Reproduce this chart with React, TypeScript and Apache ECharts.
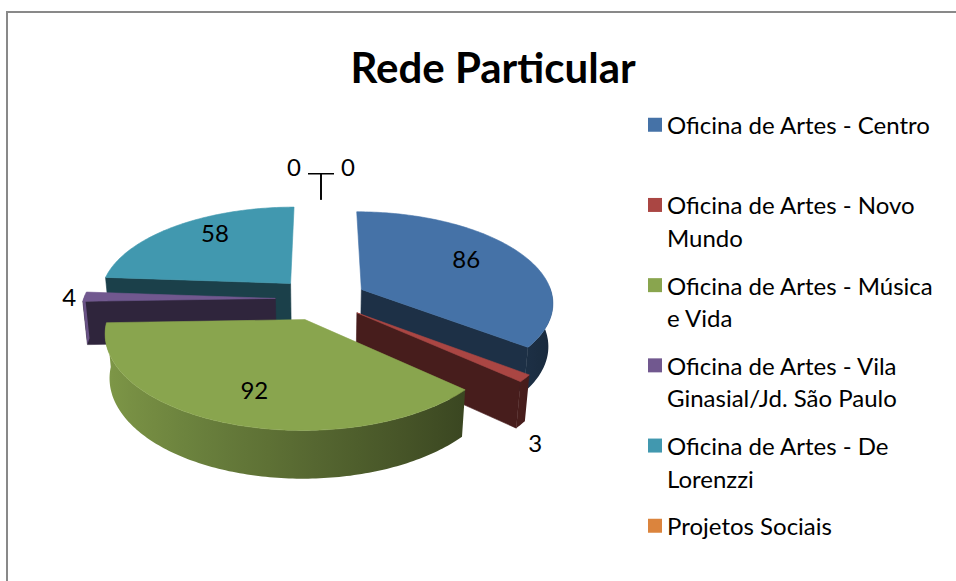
import React, { useEffect, useRef } from 'react';
import * as echarts from 'echarts';

// ---------------- data ----------------
const TITLE = 'Rede Particular';
const CATEGORIES: string[] = [
  'Oficina de Artes - Centro',
  'Oficina de Artes - Novo Mundo',
  'Oficina de Artes - Música e Vida',
  'Oficina de Artes - Vila Ginasial/Jd. São Paulo',
  'Oficina de Artes - De Lorenzzi',
  'Projetos Sociais',
  'Outros',
];
const VALUES: number[] = [86, 3, 92, 4, 58, 0, 0];
const LEGEND_ITEMS: string[] = CATEGORIES.slice(0, 6);

// ---------------- styles ----------------
const COLORS = ['#4572A7', '#AA4643', '#89A54E', '#71588F', '#4198AF', '#DB843D', '#93A9CF'];
const FONT = 'Lato';

// 3D projection settings
const CX = 321;
const CY = 342;
const FOCAL = 1260;
const DIST = 6.7;
const TILT = Math.PI / 6;
const THICK = 0.26;
const EXPLODE = 0.238;
const DEG = Math.PI / 180;

const TOTAL = VALUES.reduce((s, v) => s + v, 0);

function project(X: number, Z: number, h: number): number[] {
  const s = Math.sin(TILT);
  const c = Math.cos(TILT);
  const v = h * c - Z * s;
  const w = DIST - h * s - Z * c;
  return [CX + (FOCAL * X) / w, CY - (FOCAL * v) / w];
}

function shade(hex: string, k: number): string {
  const n = parseInt(hex.slice(1), 16);
  const r = Math.min(255, Math.round(((n >> 16) & 255) * k));
  const g = Math.min(255, Math.round(((n >> 8) & 255) * k));
  const b = Math.min(255, Math.round((n & 255) * k));
  return `rgb(${r},${g},${b})`;
}

function wallFactor(deg: number): number {
  return 0.35 + (0.58 * (1 - Math.sin(deg * DEG))) / 2;
}

function wrapName(name: string, max = 25): string[] {
  const words = name.split(' ');
  const lines: string[] = [];
  let cur = '';
  for (const w of words) {
    const t = cur ? cur + ' ' + w : w;
    if (t.length > max && cur) {
      lines.push(cur);
      cur = w;
    } else cur = t;
  }
  if (cur) lines.push(cur);
  return lines;
}

function valueBefore(idx: number): number {
  let s = 0;
  for (let j = 0; j < idx; j++) s += VALUES[j];
  return s;
}

function zeroOrder(idx: number): number {
  let c = 0;
  for (let j = 0; j < idx; j++) if (VALUES[j] === 0) c++;
  return c;
}

function makeRenderItem(idx: number) {
  return (_params: any, api: any) => {
    const value = api.value(0) as number;
    const before = valueBefore(idx);
    const a = (before / TOTAL) * 360;
    const b = ((before + value) / TOTAL) * 360;
    const mid = (a + b) / 2;
    const ox = EXPLODE * Math.sin(mid * DEG);
    const oz = -EXPLODE * Math.cos(mid * DEG);
    const rim = (deg: number, h: number, r = 1, rz = r) =>
      project(ox + r * Math.sin(deg * DEG), oz - rz * Math.cos(deg * DEG), h);
    const arc = (from: number, to: number, h: number) => {
      const n = Math.max(1, Math.ceil(Math.abs(to - from)));
      const pts: number[][] = [];
      for (let i = 0; i <= n; i++) pts.push(rim(from + ((to - from) * i) / n, h));
      return pts;
    };
    const base = COLORS[idx];
    const children: any[] = [];
    const poly = (points: number[][], fill: any, z2: number) => ({
      type: 'polygon',
      shape: { points },
      style: { fill, stroke: typeof fill === 'string' ? fill : null, lineWidth: 0.6 },
      z2,
    });
    const label = (x: number, y: number, text: string, align: string, vAlign: string) => ({
      type: 'text',
      x,
      y,
      z2: 10,
      style: { text, fill: '#000', fontFamily: FONT, fontSize: 24, align, verticalAlign: vAlign },
    });

    if (value > 0) {
      const apexT = project(ox, oz, THICK);
      const apexB = project(ox, oz, 0);
      const sideColor = shade(base, 0.42);
      if (Math.sin(a * DEG) < -1e-6) {
        children.push(poly([apexT, rim(a, THICK), rim(a, 0), apexB], sideColor, 1));
      }
      if (Math.sin(b * DEG) > 1e-6) {
        children.push(poly([apexT, rim(b, THICK), rim(b, 0), apexB], sideColor, 1));
      }
      const lo = Math.max(a, 88);
      const hi = Math.min(b, 272);
      if (hi > lo) {
        const topPts = arc(lo, hi, THICK);
        const botPts = arc(lo, hi, 0).reverse();
        const pts = topPts.concat(botPts);
        const xs = pts.map((p) => p[0]);
        const minX = Math.min(...xs);
        const maxX = Math.max(...xs);
        const stops: any[] = [];
        const n = 12;
        for (let i = 0; i <= n; i++) {
          const d = lo + ((hi - lo) * i) / n;
          const x = rim(d, THICK)[0];
          const off = maxX > minX ? Math.min(1, Math.max(0, (x - minX) / (maxX - minX))) : 0;
          stops.push({ offset: off, color: shade(base, wallFactor(d)) });
        }
        stops.sort((p, q) => p.offset - q.offset);
        const grad = new echarts.graphic.LinearGradient(0, 0, 1, 0, stops);
        children.push(poly(pts, grad, 2));
      }
      children.push(poly([apexT, ...arc(a, b, THICK)], base, 3));

      const frac = value / TOTAL;
      if (frac > 0.1) {
        const p = rim(mid, THICK, 0.66, 0.8 + 0.1 * Math.cos(mid * DEG));
        children.push(label(p[0], p[1], String(value), 'center', 'middle'));
      } else {
        const front = Math.cos(mid * DEG) < 0;
        const p = rim(mid, front ? 0 : THICK, 1.08);
        children.push(label(p[0], p[1], String(value), 'center', front ? 'top' : 'middle'));
      }
    } else {
      const p = rim(a, THICK, 1);
      const dir = zeroOrder(idx) % 2 === 0 ? -1 : 1;
      const topY = p[1] - 29;
      children.push({
        type: 'polyline',
        shape: { points: [[p[0], p[1] - 3], [p[0], topY], [p[0] + dir * 13, topY]] },
        style: { stroke: '#000', lineWidth: 1.6, fill: null },
        z2: 10,
      });
      children.push(label(p[0] + dir * 20, topY - 7, String(value), dir < 0 ? 'right' : 'left', 'middle'));
    }
    return { type: 'group', children };
  };
}

function depthRank(): number[] {
  const depth = VALUES.map((v, i) => {
    const before = valueBefore(i);
    const mid = ((before + v / 2) / TOTAL) * 360;
    return v === 0 ? 10 : -Math.cos(mid * DEG);
  });
  const order = depth.map((d, i) => i).sort((p, q) => depth[p] - depth[q]);
  const rank: number[] = [];
  order.forEach((i, r) => (rank[i] = r));
  return rank;
}

export default function App() {
  const ref = useRef<HTMLDivElement>(null);
  useEffect(() => {
    if (!ref.current) return;
    const chart = echarts.init(ref.current, null, { renderer: 'svg' });
    const rank = depthRank();
    const series = CATEGORIES.map((name, i) => ({
      type: 'custom',
      name,
      coordinateSystem: 'none',
      z: 2 + rank[i],
      silent: true,
      itemStyle: { color: COLORS[i] },
      renderItem: makeRenderItem(i),
      data: [{ name, value: [VALUES[i]] }],
    }));
    chart.setOption({
      animation: false,
      backgroundColor: '#fff',
      title: {
        text: TITLE,
        left: 488,
        top: 37,
        textAlign: 'center',
        textVerticalAlign: 'top',
        textStyle: { fontFamily: FONT, fontWeight: 'bold', fontSize: 42, lineHeight: 50, color: '#000' },
      },
      legend: {
        data: LEGEND_ITEMS,
        orient: 'vertical',
        left: 648,
        top: 76,
        padding: 0,
        itemGap: -17.3,
        icon: 'rect',
        itemWidth: 14,
        itemHeight: 14,
        selectedMode: false,
        textStyle: { fontFamily: FONT, fontSize: 24, lineHeight: 32.5, color: '#000' },
        formatter: (name: string) => {
          const lines = wrapName(name);
          const body = ' \n' + lines.join('\n');
          return lines.length === 1 ? body + '\n ' : body;
        },
      },
      graphic: [
        {
          type: 'rect',
          shape: { x: 7, y: 12, width: 1200, height: 1000 },
          style: { fill: null, stroke: '#898989', lineWidth: 2 },
          silent: true,
          z: 0,
        },
      ],
      series,
    });
    return () => chart.dispose();
  }, []);
  return (
    <div
      ref={ref}
      style={{ position: 'fixed', left: 0, top: 0, width: '956px', height: '581px' }}
    />
  );
}
